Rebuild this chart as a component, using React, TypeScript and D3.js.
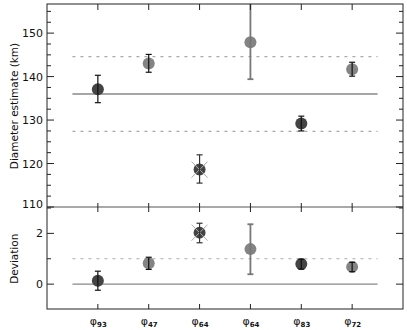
import React, { useEffect, useRef } from 'react';
import * as d3 from 'd3';

// one entry per observation, left to right
const categories = ['93', '47', '64', '64', '83', '72'];
const shades = ['dark', 'light', 'dark', 'light', 'dark', 'light'];
const flagged = [false, false, true, false, false, false];

const diameter = [137.1, 143.0, 118.6, 147.9, 129.2, 141.7];
const diameterLow = [134.0, 141.0, 115.5, 139.4, 127.5, 140.1];
const diameterHigh = [140.3, 145.1, 122.0, 160.0, 130.9, 143.3];
const diameterMean = 136.0;
const diameterBand = [127.4, 144.6];
const diameterTicks = [110, 120, 130, 140, 150];

const deviation = [0.13, 0.82, 2.03, 1.38, 0.79, 0.68];
const deviationLow = [-0.24, 0.58, 1.63, 0.39, 0.59, 0.49];
const deviationHigh = [0.51, 1.06, 2.4, 2.36, 0.98, 0.86];
const deviationLine = 0;
const deviationBand = 1;
const deviationTicks = [0, 2];

const App = () => {
    const ref = useRef<SVGSVGElement>(null);

    useEffect(() => {
        const svg = d3.select(ref.current);
        svg.selectAll('*').remove();

        const left = 47, right = 403, top = 4, mid = 207, bottom = 309;
        const font = '"DejaVu Sans", "Liberation Sans", sans-serif';

        const x = d3.scaleLinear().domain([-1, 6]).range([left, right]);
        const yTop = d3.scaleLinear().domain([110, 156.7]).range([mid, top]);
        const yBot = d3.scaleLinear().domain([-0.98, 3.04]).range([bottom, mid]);

        const colour = (s: string) => (s === 'dark' ? '#444' : '#848484');
        const barColour = (i: number) =>
            i === 3 ? '#777' : i === 2 ? '#333' : '#111';

        const defs = svg.append('defs');
        defs.append('clipPath').attr('id', 'clip-top')
            .append('rect').attr('x', left).attr('y', top)
            .attr('width', right - left).attr('height', mid - top);
        defs.append('clipPath').attr('id', 'clip-bot')
            .append('rect').attr('x', left).attr('y', mid)
            .attr('width', right - left).attr('height', bottom - mid);

        const drawPanel = (
            y: d3.ScaleLinear<number, number>,
            clip: string,
            values: number[],
            low: number[],
            high: number[],
            solid: number,
            dashed: number[],
        ) => {
            const g = svg.append('g').attr('clip-path', `url(#${clip})`);

            g.selectAll('line.dash')
                .data(dashed)
                .enter()
                .append('line')
                .attr('x1', x(-0.5)).attr('x2', x(5.5))
                .attr('y1', d => y(d)).attr('y2', d => y(d))
                .attr('stroke', '#aaa')
                .attr('stroke-width', 1.2)
                .attr('stroke-dasharray', '3,5');

            g.append('line')
                .attr('x1', x(-0.5)).attr('x2', x(5.5))
                .attr('y1', y(solid)).attr('y2', y(solid))
                .attr('stroke', '#888')
                .attr('stroke-width', 1.3);

            values.forEach((v, i) => {
                const cx = x(i);
                // circle first, error bar on top
                g.append('circle')
                    .attr('cx', cx).attr('cy', y(v)).attr('r', 6)
                    .attr('fill', colour(shades[i]));

                if (flagged[i]) {
                    const s = 8;
                    [[-1, -1, 1, 1], [-1, 1, 1, -1]].forEach(([a, b, c, d]) => {
                        g.append('line')
                            .attr('x1', cx + a * s).attr('y1', y(v) + b * s)
                            .attr('x2', cx + c * s).attr('y2', y(v) + d * s)
                            .attr('stroke', '#aaa').attr('stroke-width', 1);
                    });
                }

                const bc = barColour(i);
                const bw = i === 3 ? 1.8 : 1.2;
                g.append('line')
                    .attr('x1', cx).attr('x2', cx)
                    .attr('y1', y(low[i])).attr('y2', y(high[i]))
                    .attr('stroke', bc).attr('stroke-width', bw);
                [low[i], high[i]].forEach(e => {
                    g.append('line')
                        .attr('x1', cx - 3).attr('x2', cx + 3)
                        .attr('y1', y(e)).attr('y2', y(e))
                        .attr('stroke', bc).attr('stroke-width', bw);
                });
            });
        };

        drawPanel(yTop, 'clip-top', diameter, diameterLow, diameterHigh,
            diameterMean, diameterBand);
        drawPanel(yBot, 'clip-bot', deviation, deviationLow, deviationHigh,
            deviationLine, [deviationBand]);

        // frame
        const axisColour = '#222';
        svg.append('rect')
            .attr('x', left).attr('y', top)
            .attr('width', right - left).attr('height', bottom - top)
            .attr('fill', 'none').attr('stroke', axisColour).attr('stroke-width', 1);
        svg.append('line')
            .attr('x1', left).attr('x2', right)
            .attr('y1', mid).attr('y2', mid)
            .attr('stroke', '#555').attr('stroke-width', 1.2);

        const ticks = svg.append('g').attr('stroke', axisColour).attr('stroke-width', 1);

        // y ticks, top panel: minor every 2.5, labelled every 10
        d3.range(110, 156, 2.5).forEach(v => {
            const major = v % 10 === 0;
            const len = major ? 7 : 4;
            ticks.append('line')
                .attr('x1', left).attr('x2', left + len)
                .attr('y1', yTop(v)).attr('y2', yTop(v));
            ticks.append('line')
                .attr('x1', right).attr('x2', right - len)
                .attr('y1', yTop(v)).attr('y2', yTop(v));
        });
        [0, 1, 2, 3].forEach(v => {
            const major = v % 2 === 0;
            const len = major ? 7 : 4;
            ticks.append('line')
                .attr('x1', left).attr('x2', left + len)
                .attr('y1', yBot(v)).attr('y2', yBot(v));
            ticks.append('line')
                .attr('x1', right).attr('x2', right - len)
                .attr('y1', yBot(v)).attr('y2', yBot(v));
        });

        // x ticks
        categories.forEach((_, i) => {
            const cx = x(i);
            ticks.append('line').attr('x1', cx).attr('x2', cx)
                .attr('y1', top).attr('y2', top + 6);
            ticks.append('line').attr('x1', cx).attr('x2', cx)
                .attr('y1', mid - 4).attr('y2', mid + 5);
            ticks.append('line').attr('x1', cx).attr('x2', cx)
                .attr('y1', bottom).attr('y2', bottom - 5);
        });

        // tick labels
        svg.selectAll('text.ytop')
            .data(diameterTicks)
            .enter()
            .append('text')
            .attr('x', left - 4)
            .attr('y', d => yTop(d) + (d === 110 ? 1 : 4))
            .attr('text-anchor', 'end')
            .attr('font-family', font)
            .attr('font-size', 11)
            .attr('fill', '#111')
            .text(d => d);

        svg.selectAll('text.ybot')
            .data(deviationTicks)
            .enter()
            .append('text')
            .attr('x', left - 4)
            .attr('y', d => yBot(d) + 4)
            .attr('text-anchor', 'end')
            .attr('font-family', font)
            .attr('font-size', 11)
            .attr('fill', '#111')
            .text(d => d);

        const xLabels = svg.append('g').attr('opacity', 0.99);
        categories.forEach((c, i) => {
            const t = xLabels.append('text')
                .attr('x', x(i) - 8)
                .attr('y', 325)
                .attr('font-family', font)
                .attr('font-size', 11)
                .attr('fill', '#111');
            t.append('tspan').text('\u03c6');
            t.append('tspan')
                .attr('dy', 2)
                .attr('font-size', 7)
                .attr('font-weight', 'bold')
                .text(c);
        });

        // axis titles
        svg.append('text')
            .attr('transform', `translate(18, 106) rotate(-90)`)
            .attr('text-anchor', 'middle')
            .attr('font-family', font)
            .attr('font-size', 10.5)
            .attr('fill', '#111')
            .text('Diameter estimate (km)');

        svg.append('text')
            .attr('transform', `translate(18, ${yBot(1)}) rotate(-90)`)
            .attr('text-anchor', 'middle')
            .attr('font-family', font)
            .attr('font-size', 10.5)
            .attr('fill', '#111')
            .text('Deviation');
    }, []);

    return (
        <svg
            ref={ref}
            width={407}
            height={330}
            style={{ position: 'absolute', left: 0, top: 0, background: '#fff' }}
        />
    );
};

export default App;
